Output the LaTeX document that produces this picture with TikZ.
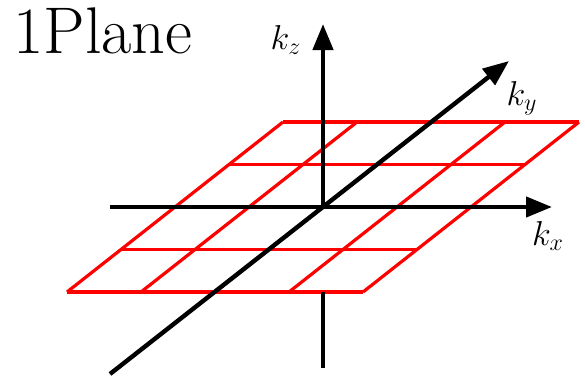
\documentclass[tikz,border=0pt]{standalone}
\usepackage{amsmath,amssymb}
\usetikzlibrary{arrows.meta}

\begin{document}
\begin{tikzpicture}[
  x=0.5pt, y=-0.5pt,
  grid/.style={red, line width=1.6pt, line join=round},
  axis/.style={black, line width=2.2pt},
  arr/.style={axis, -{Triangle[length=13pt,width=10pt]}},
  lbl/.style={inner sep=0pt, font=\fontsize{18}{21}\selectfont}
]
\useasboundingbox (0,0) rectangle (585,380);

% the plane, a 4x4 grid seen at a slant
\foreach \i in {0,...,4} {
  \draw[grid] (67+54*\i,292-42.5*\i) -- ++(296,0);
  \draw[grid] (67+74*\i,292) -- ++(216,-170);
}

\coordinate (o) at (323,207);
\coordinate (kxs) at (110,207);
\coordinate (kxe) at (552,207);
\coordinate (kys) at (110,374);
\coordinate (kye) at (509,61);
\coordinate (kze) at (323,24);
\coordinate (kzb) at (323,292);
\coordinate (kzs) at (323,368);

\draw[arr] (kxs) -- (kxe);
\draw[arr] (kys) -- (kye);
\draw[arr] (o) -- (kze);
\draw[axis] (kzb) -- (kzs);

\node[lbl] (lx) at (548,236) {$k_x$};
\node[lbl] (ly) at (522,98) {$k_y$};
\node[lbl] (lz) at (286,40) {$k_z$};
\node[inner sep=0pt, anchor=base west, font=\fontsize{33}{38}\selectfont] (title) at (13,54) {1Plane};
\end{tikzpicture}
\end{document}
